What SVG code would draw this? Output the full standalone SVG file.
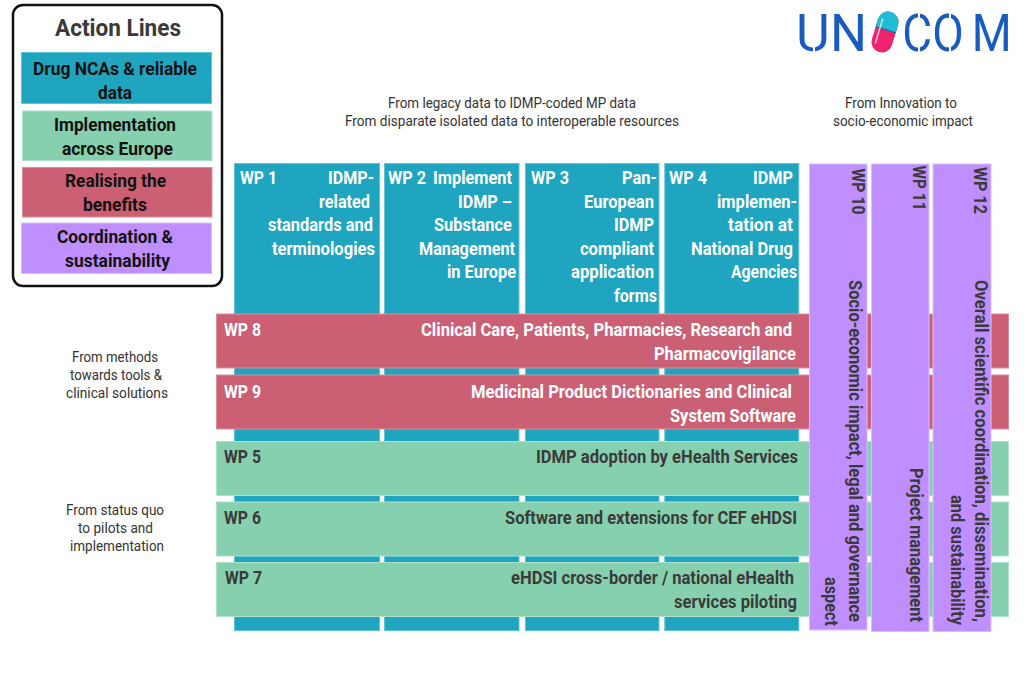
<svg xmlns="http://www.w3.org/2000/svg" width="1024" height="675" viewBox="0 0 1024 675">
<style>
text{font-family:Roboto,"Liberation Sans",sans-serif}
.b{font-size:18.5px;font-weight:700;fill:#fff}
.d{font-size:18.5px;font-weight:700;fill:#3a3a3a}
.k{font-size:18.5px;font-weight:700;fill:#111}
.n{font-size:14px;font-weight:400;fill:#333}
.blue{fill:#1fa5bf;stroke:#5fc3d6;stroke-width:1}
.green{fill:#86d0af;stroke:#b0e2cb;stroke-width:1}
.red{fill:#cb6075;stroke:#dc8c9c;stroke-width:1}
.purple{fill:#c08fff;stroke:#d8bdff;stroke-width:1}
.logo{font-size:52px;font-weight:400;fill:#1a5bc0}
.cut{fill:#fff}
</style>
<rect width="1024" height="675" fill="#fff"/>
<g id="legend">
<rect x="13" y="5" width="209" height="281" rx="10" fill="#fff" stroke="#111" stroke-width="2.5"/>
<text x="55" y="36" textLength="126" lengthAdjust="spacingAndGlyphs" font-size="24.500" font-weight="700" fill="#3a3a3a">Action Lines</text>
<rect class="blue" x="21.5" y="52.5" width="190" height="51"/>
<text class="k" x="33" y="75" textLength="164" lengthAdjust="spacingAndGlyphs">Drug NCAs &amp; reliable</text>
<text class="k" x="98" y="99.300" textLength="34" lengthAdjust="spacingAndGlyphs">data</text>
<rect class="green" x="22.5" y="111" width="189.500" height="49.500"/>
<text class="k" x="54" y="131" textLength="122" lengthAdjust="spacingAndGlyphs">Implementation</text>
<text class="k" x="62" y="155" textLength="111" lengthAdjust="spacingAndGlyphs">across Europe</text>
<rect class="red" x="22.5" y="167.500" width="189.500" height="49.500"/>
<text class="k" x="65" y="187" textLength="101" lengthAdjust="spacingAndGlyphs">Realising the</text>
<text class="k" x="83" y="211" textLength="64" lengthAdjust="spacingAndGlyphs">benefits</text>
<rect class="purple" x="21.5" y="223" width="190" height="50.500"/>
<text class="k" x="57" y="243" textLength="116" lengthAdjust="spacingAndGlyphs">Coordination &amp;</text>
<text class="k" x="65" y="267" textLength="105" lengthAdjust="spacingAndGlyphs">sustainability</text>
</g>
<g id="logo">
<text class="logo" x="796 830" y="51">UN</text>
<rect class="cut" x="813" y="44" width="2" height="9"/>
<g transform="rotate(17 885 32)">
<rect x="874.500" y="11" width="21" height="42" rx="10.500" fill="#f0246e"/>
<path d="M874.500 29.500V21.500a10.500 10.500 0 0 1 21 0V29.500Z" fill="#1fbcd6"/>
<path d="M874.500 29.500H895.500" stroke="#16689a" stroke-width="1" fill="none"/>
<path d="M879 46V20" stroke="#fff" stroke-opacity=".75" stroke-width="1.500" fill="none"/>
</g>
<text class="logo" transform="translate(905 51) scale(.88 1)" x="-3 31 76" y="0">COM</text>
<rect class="cut" x="918" y="12" width="2" height="9"/>
<rect class="cut" x="918" y="44" width="2" height="9"/>
<rect class="cut" x="949" y="12" width="2" height="9"/>
<rect class="cut" x="949" y="44" width="2" height="9"/>
</g>
<g id="headers">
<text class="n" x="388" y="108" textLength="248" lengthAdjust="spacingAndGlyphs">From legacy data to IDMP-coded MP data</text>
<text class="n" x="345" y="126" textLength="334" lengthAdjust="spacingAndGlyphs">From disparate isolated data to interoperable resources</text>
<text class="n" x="845" y="108" textLength="112" lengthAdjust="spacingAndGlyphs">From Innovation to</text>
<text class="n" x="833" y="126" textLength="140" lengthAdjust="spacingAndGlyphs">socio-economic impact</text>
<text class="n" x="72" y="362" textLength="86" lengthAdjust="spacingAndGlyphs">From methods</text>
<text class="n" x="70" y="380" textLength="92" lengthAdjust="spacingAndGlyphs">towards tools &amp;</text>
<text class="n" x="66" y="398" textLength="102" lengthAdjust="spacingAndGlyphs">clinical solutions</text>
<text class="n" x="66" y="515" textLength="98" lengthAdjust="spacingAndGlyphs">From status quo</text>
<text class="n" x="78" y="533" textLength="75" lengthAdjust="spacingAndGlyphs">to pilots and</text>
<text class="n" x="70" y="551" textLength="94" lengthAdjust="spacingAndGlyphs">implementation</text>
</g>
<g id="wp1">
<rect class="blue" x="234.500" y="163.500" width="145" height="467"/>
<text class="b" x="240" y="184" textLength="37" lengthAdjust="spacingAndGlyphs">WP 1</text>
<text class="b" x="328" y="184" textLength="46" lengthAdjust="spacingAndGlyphs">IDMP-</text>
<text class="b" x="319" y="207.700" textLength="51" lengthAdjust="spacingAndGlyphs">related</text>
<text class="b" x="268" y="231" textLength="105" lengthAdjust="spacingAndGlyphs">standards and</text>
<text class="b" x="272" y="254.500" textLength="103" lengthAdjust="spacingAndGlyphs">terminologies</text>
</g>
<g id="wp2">
<rect class="blue" x="384.500" y="163.500" width="134.500" height="467"/>
<text class="b" x="388" y="184" textLength="38" lengthAdjust="spacingAndGlyphs">WP 2</text>
<text class="b" x="433" y="184" textLength="79" lengthAdjust="spacingAndGlyphs">Implement</text>
<text class="b" x="458" y="207.700" textLength="54" lengthAdjust="spacingAndGlyphs">IDMP –</text>
<text class="b" x="434" y="231" textLength="78" lengthAdjust="spacingAndGlyphs">Substance</text>
<text class="b" x="419" y="254.500" textLength="96" lengthAdjust="spacingAndGlyphs">Management</text>
<text class="b" x="447" y="278.300" textLength="69" lengthAdjust="spacingAndGlyphs">in Europe</text>
</g>
<g id="wp3">
<rect class="blue" x="525.500" y="163.500" width="133.500" height="467"/>
<text class="b" x="531" y="184" textLength="38" lengthAdjust="spacingAndGlyphs">WP 3</text>
<text class="b" x="622" y="184" textLength="35" lengthAdjust="spacingAndGlyphs">Pan-</text>
<text class="b" x="584" y="207.700" textLength="70" lengthAdjust="spacingAndGlyphs">European</text>
<text class="b" x="614" y="231" textLength="40" lengthAdjust="spacingAndGlyphs">IDMP</text>
<text class="b" x="580" y="254.500" textLength="74" lengthAdjust="spacingAndGlyphs">compliant</text>
<text class="b" x="571" y="278.300" textLength="83" lengthAdjust="spacingAndGlyphs">application</text>
<text class="b" x="614" y="302" textLength="43" lengthAdjust="spacingAndGlyphs">forms</text>
</g>
<g id="wp4">
<rect class="blue" x="664.800" y="163.500" width="134" height="467"/>
<text class="b" x="669" y="184" textLength="38" lengthAdjust="spacingAndGlyphs">WP 4</text>
<text class="b" x="753" y="184" textLength="40" lengthAdjust="spacingAndGlyphs">IDMP</text>
<text class="b" x="717" y="207.700" textLength="80" lengthAdjust="spacingAndGlyphs">implemen-</text>
<text class="b" x="728" y="231" textLength="65" lengthAdjust="spacingAndGlyphs">tation at</text>
<text class="b" x="691" y="254.500" textLength="102" lengthAdjust="spacingAndGlyphs">National Drug</text>
<text class="b" x="731" y="278.300" textLength="66" lengthAdjust="spacingAndGlyphs">Agencies</text>
</g>
<g id="wp8">
<rect class="red" x="216.500" y="314" width="792" height="54"/>
<text class="b" x="224" y="336" textLength="37" lengthAdjust="spacingAndGlyphs">WP 8</text>
<text class="b" x="421" y="336" textLength="371" lengthAdjust="spacingAndGlyphs">Clinical Care, Patients, Pharmacies, Research and</text>
<text class="b" x="654" y="360" textLength="142" lengthAdjust="spacingAndGlyphs">Pharmacovigilance</text>
</g>
<g id="wp9">
<rect class="red" x="216.500" y="375" width="792" height="54"/>
<text class="b" x="224" y="398" textLength="37" lengthAdjust="spacingAndGlyphs">WP 9</text>
<text class="b" x="471" y="398" textLength="321" lengthAdjust="spacingAndGlyphs">Medicinal Product Dictionaries and Clinical</text>
<text class="b" x="670" y="422" textLength="126" lengthAdjust="spacingAndGlyphs">System Software</text>
</g>
<g id="wp5">
<rect class="green" x="216.500" y="441.500" width="792" height="54"/>
<text class="d" x="224" y="463" textLength="37" lengthAdjust="spacingAndGlyphs">WP 5</text>
<text class="d" x="536" y="463" textLength="262" lengthAdjust="spacingAndGlyphs">IDMP adoption by eHealth Services</text>
</g>
<g id="wp6">
<rect class="green" x="216.500" y="502" width="792" height="54"/>
<text class="d" x="224" y="524" textLength="37" lengthAdjust="spacingAndGlyphs">WP 6</text>
<text class="d" x="505" y="524" textLength="292" lengthAdjust="spacingAndGlyphs">Software and extensions for CEF eHDSI</text>
</g>
<g id="wp7">
<rect class="green" x="216.500" y="562.500" width="792" height="54"/>
<text class="d" x="225" y="584" textLength="37" lengthAdjust="spacingAndGlyphs">WP 7</text>
<text class="d" x="511" y="584" textLength="283" lengthAdjust="spacingAndGlyphs">eHDSI cross-border / national eHealth</text>
<text class="d" x="674" y="608" textLength="123" lengthAdjust="spacingAndGlyphs">services piloting</text>
</g>
<g id="wp10">
<rect class="purple" x="809.500" y="164" width="57.500" height="466"/>
<text class="d" transform="translate(852 168.500) rotate(90)" textLength="46" lengthAdjust="spacingAndGlyphs">WP 10</text>
<text class="d" transform="translate(849 280) rotate(90)" textLength="342" lengthAdjust="spacingAndGlyphs">Socio-economic impact, legal and governance</text>
<text class="d" transform="translate(825 577) rotate(90)" textLength="49" lengthAdjust="spacingAndGlyphs">aspect</text>
</g>
<g id="wp11">
<rect class="purple" x="871.500" y="164" width="57.500" height="467.500"/>
<text class="d" transform="translate(913 165.500) rotate(90)" textLength="45" lengthAdjust="spacingAndGlyphs">WP 11</text>
<text class="d" transform="translate(910 468) rotate(90)" textLength="154" lengthAdjust="spacingAndGlyphs">Project management</text>
</g>
<g id="wp12">
<rect class="purple" x="933" y="164" width="58" height="467.500"/>
<text class="d" transform="translate(973.500 167) rotate(90)" textLength="47" lengthAdjust="spacingAndGlyphs">WP 12</text>
<text class="d" transform="translate(975 280) rotate(90)" textLength="342" lengthAdjust="spacingAndGlyphs">Overall scientific coordination, dissemination,</text>
<text class="d" transform="translate(951 495) rotate(90)" textLength="130" lengthAdjust="spacingAndGlyphs">and sustainability</text>
</g>
<g id="connectors"/>
</svg>
